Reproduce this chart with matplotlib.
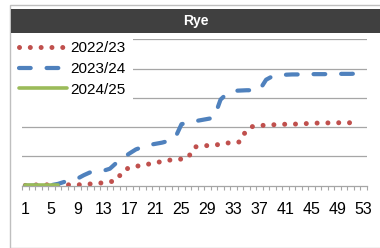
import matplotlib
matplotlib.use("Agg")
import matplotlib.pyplot as plt
from matplotlib.patches import Rectangle

plt.rcParams['lines.scale_dashes'] = False
plt.rcParams['font.family'] = ['Liberation Sans', 'DejaVu Sans']

title = "Rye"
weeks = list(range(1, 54))
tick_positions = list(range(1, 54, 4))
tick_labels = [str(w) for w in tick_positions]
series_names = ["2022/23", "2023/24", "2024/25"]
s2223 = [0.01, 0.02, 0.03, 0.03, 0.03, 0.03, 0.03, 0.03, 0.03, 0.04,
         0.06, 0.08, 0.10, 0.13, 0.18, 0.50, 0.62, 0.66, 0.70, 0.74,
         0.78, 0.83, 0.87, 0.89, 0.91, 0.95, 1.32, 1.36, 1.37, 1.38,
         1.42, 1.46, 1.46, 1.50, 1.92, 2.03, 2.05, 2.07, 2.08, 2.09,
         2.10, 2.10, 2.11, 2.12, 2.13, 2.14, 2.14, 2.15, 2.15, 2.15,
         2.15, 2.15]
s2324 = [0.00, 0.00, 0.01, 0.01, 0.02, 0.06, 0.13, 0.18, 0.24, 0.36,
         0.46, 0.49, 0.51, 0.58, 0.78, 0.95, 1.10, 1.24, 1.32, 1.39,
         1.43, 1.47, 1.53, 1.62, 2.10, 2.16, 2.20, 2.24, 2.28, 2.32,
         2.94, 3.15, 3.24, 3.25, 3.26, 3.26, 3.27, 3.62, 3.74, 3.78,
         3.79, 3.80, 3.80, 3.80, 3.81, 3.81, 3.81, 3.82, 3.82, 3.82,
         3.82, 3.83, 3.83]
s2425 = [0.02, 0.02, 0.02, 0.02, 0.02, 0.02]

W, H = 380, 248
fig = plt.figure(figsize=(W / 100, H / 100), dpi=100)

def fx(px):
    return px / W

def fy(py):
    return 1 - py / H

# outer border and title bar
fig.patches.append(Rectangle((fx(9.5), 0), 1.0, fy(5) - 0, transform=fig.transFigure,
                             facecolor='white', edgecolor='#bfbfbf', linewidth=1.0, zorder=-2))
fig.patches.append(Rectangle((fx(11), fy(33.5)), 1.0, (33.5 - 9) / H, transform=fig.transFigure,
                             facecolor='#404040', edgecolor='none', zorder=-1))
fig.text(fx(195.5), fy(21.5), title, color='white', fontsize=10, fontweight='bold',
         ha='center', va='center')

ax = fig.add_axes([fx(22), fy(185.7), (367 - 22) / W, (185.7 - 39.3) / H])
ax.set_facecolor('none')
ax.set_xlim(0.5, 53.5)
ax.set_ylim(0, 5)

grid_c = '#a6a6a6'
ax.set_yticks([1, 2, 3, 4, 5])
ax.yaxis.grid(True, color=grid_c, linewidth=0.9)
ax.tick_params(axis='y', length=0, labelleft=False)
for s in ['left', 'right', 'top']:
    ax.spines[s].set_visible(False)
ax.spines['bottom'].set_color(grid_c)
ax.spines['bottom'].set_linewidth(0.9)

ax.set_xticks(tick_positions)
ax.set_xticklabels(tick_labels)
ax.set_xticks([w - 0.5 for w in weeks] + [53.5], minor=True)
ax.tick_params(axis='x', which='major', length=0, pad=12, labelsize=11.5, colors='black')
ax.tick_params(axis='x', which='minor', length=3, width=0.8, color=grid_c, direction='out')

px = 0.72
red, = ax.plot(weeks[:len(s2223)], s2223, color='#c0504d', linewidth=5.0 * px,
               dashes=(0.01, 10.8 * px), dash_capstyle='round', label=series_names[0], zorder=3)
blue, = ax.plot(weeks[:len(s2324)], s2324, color='#4f81bd', linewidth=4.2 * px,
                dashes=(11.7 * px, 15.9 * px), dash_capstyle='round', label=series_names[1], zorder=3)
green, = ax.plot(weeks[:len(s2425)], s2425, color='#9bbb59', linewidth=3.6 * px,
                 solid_capstyle='round', label=series_names[2], zorder=4)

# white legend area covering gridlines
fig.patches.append(Rectangle((fx(12), fy(104)), (133 - 12) / W, (104 - 36) / H,
                             transform=fig.transFigure, facecolor='white', edgecolor='none', zorder=1.5))
leg = fig.legend(handles=[red, blue, green], loc='upper left',
                 bbox_to_anchor=(fx(14), fy(36.5)), frameon=False, fontsize=11,
                 handlelength=3.15, handletextpad=0.2, labelspacing=0.45,
                 borderpad=0.3, borderaxespad=0)
leg.set_zorder(5)

fig.savefig('out.png', dpi=100)
